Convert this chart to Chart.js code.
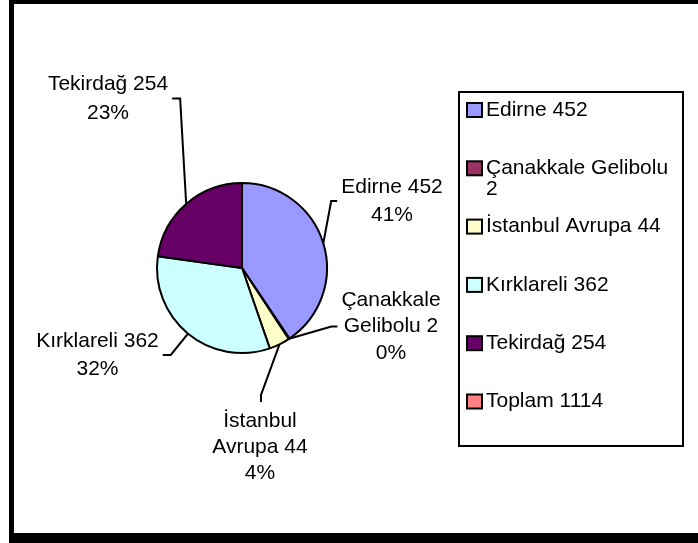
<!DOCTYPE html>
<html><head><meta charset="utf-8">
<script src="https://cdn.jsdelivr.net/npm/chart.js@4"></script>
<style>html,body{margin:0;padding:0;background:#fff;}canvas{display:block;}</style>
</head><body>
<canvas id="c" width="698" height="543"></canvas>
<script>
// ---- data ----
const categories = ['Edirne', 'Çanakkale Gelibolu', 'İstanbul Avrupa', 'Kırklareli', 'Tekirdağ'];
const values = [452, 2, 44, 362, 254];
const totalLabel = 'Toplam';
const totalValue = 1114;
const sliceColors = ['#9999FF', '#993366', '#FFFFCC', '#CCFFFF', '#660066'];
const totalColor = '#FF8080';

const FONT = '21px Arial, "Liberation Sans", sans-serif';

const framePlugin = {
  id: 'frame',
  beforeDraw(chart) {
    const ctx = chart.ctx;
    ctx.save();
    ctx.fillStyle = '#fff';
    ctx.fillRect(0, 0, chart.width, chart.height);
    ctx.fillStyle = '#000';
    ctx.fillRect(9, 0, 5, chart.height);
    ctx.fillRect(9, 0, chart.width - 9, 4);
    ctx.fillRect(9, 533, chart.width - 9, chart.height - 533);
    ctx.restore();
  }
};

const labelPlugin = {
  id: 'outLabels',
  afterDatasetsDraw(chart, args, opts) {
    const ctx = chart.ctx;
    const meta = chart.getDatasetMeta(0);
    const data = chart.data.datasets[0].data;
    const sum = data.reduce((a, b) => a + b, 0);
    ctx.save();
    ctx.font = FONT;
    ctx.fillStyle = '#000';
    ctx.strokeStyle = '#000';
    ctx.lineWidth = 2;
    ctx.textAlign = 'center';
    ctx.textBaseline = 'middle';
    meta.data.forEach((arc, i) => {
      const p = opts.place[i];
      const name = chart.data.labels[i];
      const v = data[i];
      const pct = Math.round(v / sum * 100) + '%';
      let lines;
      if (p.wrap) {
        const k = name.indexOf(' ');
        lines = [name.slice(0, k), name.slice(k + 1) + ' ' + v, pct];
      } else {
        lines = [name + ' ' + v, pct];
      }
      const n = lines.length;
      const y0 = p.cy - (n - 1) / 2 * p.lh;
      let maxW = 0;
      lines.forEach((t, j) => {
        ctx.fillText(t, p.cx, y0 + j * p.lh);
        maxW = Math.max(maxW, ctx.measureText(t).width);
      });
      const props = arc.getProps(['x', 'y', 'startAngle', 'endAngle', 'outerRadius'], true);
      const mid = (props.startAngle + props.endAngle) / 2;
      const ax = props.x + Math.cos(mid) * props.outerRadius;
      const ay = props.y + Math.sin(mid) * props.outerRadius;
      let sx, sy, ex, ey;
      if (p.side === 'right') {
        sx = p.cx - maxW / 2 - 4; sy = p.cy; ex = sx - 6; ey = sy;
      } else if (p.side === 'left') {
        sx = p.cx + maxW / 2 + 4; sy = p.cy; ex = sx + 8; ey = sy;
      } else {
        sx = p.cx + 1; sy = y0 - 19; ex = sx; ey = sy - 7;
      }
      ctx.beginPath();
      ctx.moveTo(ax, ay);
      ctx.lineTo(ex, ey);
      ctx.lineTo(sx, sy);
      ctx.stroke();
    });
    ctx.restore();
  }
};

const legendPlugin = {
  id: 'boxLegend',
  afterDraw(chart, args, opts) {
    const ctx = chart.ctx;
    const labels = chart.data.labels.concat([totalLabel]);
    const vals = chart.data.datasets[0].data.concat([totalValue]);
    const cols = chart.data.datasets[0].backgroundColor.concat([totalColor]);
    ctx.save();
    ctx.strokeStyle = '#000';
    ctx.lineWidth = 2;
    ctx.strokeRect(opts.x, opts.y, opts.w, opts.h);
    ctx.font = FONT;
    ctx.textAlign = 'left';
    ctx.textBaseline = 'middle';
    ctx.fillStyle = '#000';
    const tx = opts.x + 27;
    const maxW = opts.x + opts.w - tx - 4;
    labels.forEach((lab, i) => {
      const y = opts.firstY + i * opts.step;
      ctx.fillStyle = cols[i];
      ctx.fillRect(opts.x + 8, y - 7, 15, 14);
      ctx.lineWidth = 2;
      ctx.strokeRect(opts.x + 8, y - 7, 15, 14);
      ctx.fillStyle = '#000';
      const words = (lab + ' ' + vals[i]).split(' ');
      let line = '', ly = y;
      words.forEach(w => {
        const test = line ? line + ' ' + w : w;
        if (line && ctx.measureText(test).width > maxW) {
          ctx.fillText(line, tx, ly);
          ly += 21;
          line = w;
        } else {
          line = test;
        }
      });
      ctx.fillText(line, tx, ly);
    });
    ctx.restore();
  }
};

new Chart(document.getElementById('c'), {
  type: 'pie',
  data: {
    labels: categories,
    datasets: [{
      data: values,
      backgroundColor: sliceColors,
      borderColor: '#000',
      borderWidth: 2
    }]
  },
  options: {
    responsive: false,
    animation: false,
    devicePixelRatio: 1,
    radius: 85,
    layout: { padding: { left: 20, right: 234, top: 80, bottom: 87 } },
    plugins: {
      legend: { display: false },
      tooltip: { enabled: false },
      outLabels: {
        place: [
          { side: 'right', cx: 392, cy: 201, lh: 28 },
          { side: 'right', cx: 391, cy: 326.5, lh: 26.5, wrap: true },
          { side: 'below', cx: 260, cy: 447, lh: 26, wrap: true },
          { side: 'left', cx: 97.5, cy: 355, lh: 28 },
          { side: 'left', cx: 108, cy: 98.5, lh: 29 }
        ]
      },
      boxLegend: { x: 459, y: 92, w: 224, h: 354, firstY: 110, step: 58.3 }
    }
  },
  plugins: [framePlugin, labelPlugin, legendPlugin]
});
</script>
</body></html>
